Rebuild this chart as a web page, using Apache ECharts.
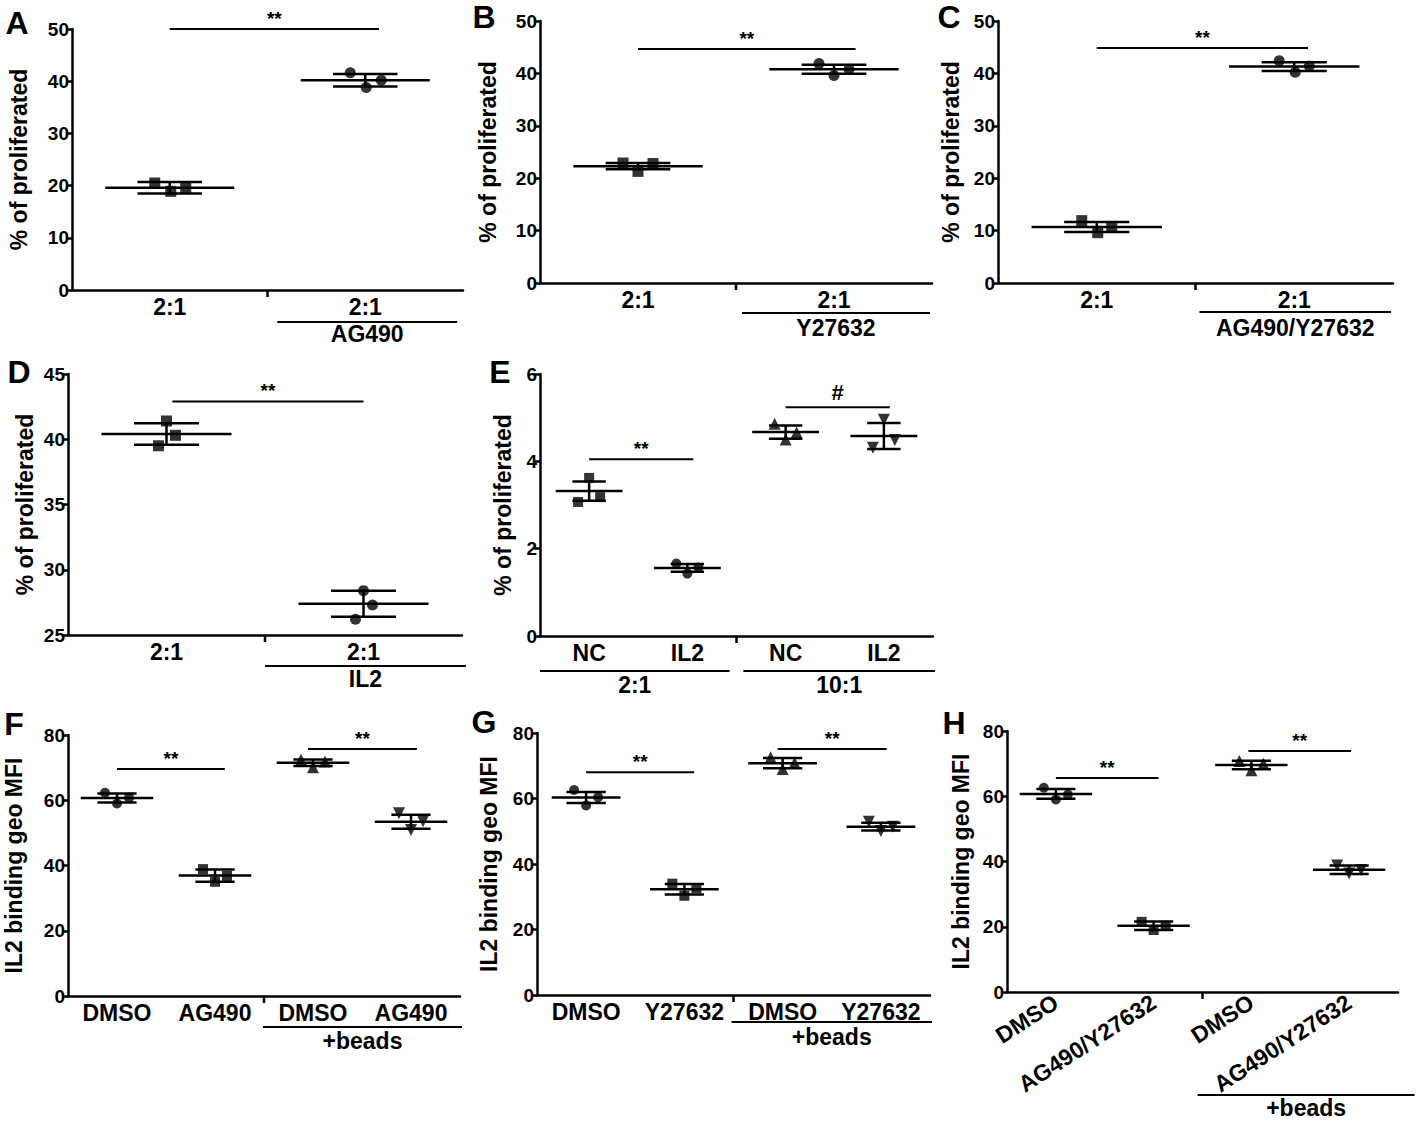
<!DOCTYPE html>
<html><head><meta charset="utf-8">
<script src="https://cdn.jsdelivr.net/npm/echarts@6/dist/echarts.min.js"></script>
<style>html,body{margin:0;padding:0;background:#fff}#c{width:1418px;height:1121px}</style>
</head><body><div id="c"></div>
<script>
// ---------------- DATA ----------------
// Panel A
const A_categories = ['2:1', '2:1'];
const A_points = [[20.5, 18.9, 19.5], [41.6, 38.8, 40.2]];
const A_mean = [19.6, 40.2];
const A_sd = [1.1, 1.2];
const A_yAxis = {min: 0, max: 50, interval: 10};
const A_sig = [{from: 0, to: 1.07, y: 50, text: '**'}];
const A_groups = [{from: 0.55, to: 1.47, text: 'AG490'}];
// Panel B
const B_categories = ['2:1', '2:1'];
const B_points = [[22.9, 21.3, 22.8], [41.9, 39.6, 40.8]];
const B_mean = [22.3, 40.8];
const B_sd = [0.6, 0.85];
const B_yAxis = {min: 0, max: 50, interval: 10};
const B_sig = [{from: 0, to: 1.11, y: 44.65, text: '**'}];
const B_groups = [{from: 0.53, to: 1.49, text: 'Y27632'}];
// Panel C
const C_categories = ['2:1', '2:1'];
const C_points = [[11.9, 9.6, 10.7], [42.4, 40.2, 41.4]];
const C_mean = [10.7, 41.3];
const C_sd = [0.95, 0.85];
const C_yAxis = {min: 0, max: 50, interval: 10};
const C_sig = [{from: 0, to: 1.07, y: 44.85, text: '**'}];
const C_groups = [{from: 0.52, to: 1.49, text: 'AG490/Y27632'}];
// Panel D
const D_categories = ['2:1', '2:1'];
const D_points = [[39.5, 41.4, 40.3], [26.2, 28.4, 27.3]];
const D_mean = [40.4, 27.4];
const D_sd = [0.83, 1.0];
const D_yAxis = {min: 25, max: 45, interval: 5};
const D_sig = [{from: 0.03, to: 1.0, y: 42.9, text: '**'}];
const D_groups = [{from: 0.5, to: 1.52, text: 'IL2'}];
// Panel E
const E_categories = ['NC', 'IL2', 'NC', 'IL2'];
const E_points = [[3.07, 3.62, 3.18], [1.66, 1.43, 1.57], [4.86, 4.50, 4.66], [4.31, 4.95, 4.49]];
const E_mean = [3.32, 1.56, 4.67, 4.58];
const E_sd = [0.22, 0.09, 0.15, 0.30];
const E_yAxis = {min: 0, max: 6, interval: 2};
const E_sig = [{from: 0, to: 1.06, y: 4.05, text: '**'}, {from: 2, to: 3.06, y: 5.24, text: '#'}];
const E_groups = [{from: -0.5, to: 1.43, text: '2:1'}, {from: 1.57, to: 3.52, text: '10:1'}];
// Panel F
const F_categories = ['DMSO', 'AG490', 'DMSO', 'AG490'];
const F_points = [[62.3, 59.0, 60.8], [38.9, 35.0, 36.8], [72.4, 70.1, 71.9], [56.0, 50.9, 53.6]];
const F_mean = [60.7, 36.9, 71.5, 53.4];
const F_sd = [1.4, 1.9, 1.0, 2.15];
const F_yAxis = {min: 0, max: 80, interval: 20};
const F_sig = [{from: 0, to: 1.1, y: 69.6, text: '**'}, {from: 1.95, to: 3.06, y: 75.7, text: '**'}];
const F_groups = [{from: 1.49, to: 3.52, text: '+beads'}];
// Panel G
const G_categories = ['DMSO', 'Y27632', 'DMSO', 'Y27632'];
const G_points = [[62.6, 57.9, 60.4], [34.0, 30.3, 32.6], [72.6, 69.0, 70.9], [52.9, 50.1, 51.4]];
const G_mean = [60.3, 32.3, 70.8, 51.4];
const G_sd = [1.7, 1.6, 1.6, 1.2];
const G_yAxis = {min: 0, max: 80, interval: 20};
const G_sig = [{from: 0, to: 1.1, y: 68.0, text: '**'}, {from: 1.95, to: 3.06, y: 75.1, text: '**'}];
const G_groups = [{from: 1.48, to: 3.52, text: '+beads'}];
// Panel H
const H_categories = ['DMSO', 'AG490/Y27632', 'DMSO', 'AG490/Y27632'];
const H_points = [[62.6, 59.0, 60.5], [21.5, 19.0, 20.3], [70.8, 68.0, 70.0], [38.8, 36.3, 37.4]];
const H_mean = [60.7, 20.3, 69.6, 37.5];
const H_sd = [1.5, 1.3, 1.3, 1.3];
const H_yAxis = {min: 0, max: 80, interval: 20};
const H_sig = [{from: 0, to: 1.05, y: 65.6, text: '**'}, {from: 1.97, to: 3.02, y: 73.9, text: '**'}];
const H_groups = [{from: 1.45, to: 3.67, text: '+beads'}];

const yTitleProlif = '% of proliferated';
const yTitleMFI = 'IL2 binding geo MFI';

// ---------------- LAYOUT ----------------
const FONT = '"Liberation Sans", Arial, Helvetica, sans-serif';
const CAT_FS = 23, TICK_FS = 19, NAME_FS = 23;
const panels = [
  {letter: 'A', cats: A_categories, pts: A_points, mean: A_mean, sd: A_sd, y: A_yAxis, sig: A_sig, groups: A_groups, yName: yTitleProlif,
   sym: ['rect', 'circle'], box: [72, 29, 463, 290], gap: 42, lp: [17, 23], jit: [-15, 1, 16], ul: 32, gl: 44, rot: 0, mf: 0.33, cf: 0.165, ss: 11},
  {letter: 'B', cats: B_categories, pts: B_points, mean: B_mean, sd: B_sd, y: B_yAxis, sig: B_sig, groups: B_groups, yName: yTitleProlif,
   sym: ['rect', 'circle'], box: [540, 21, 932, 283], gap: 41, lp: [484, 17], jit: [-15, 0, 15], ul: 30, gl: 45, rot: 0, mf: 0.33, cf: 0.165, ss: 11},
  {letter: 'C', cats: C_categories, pts: C_points, mean: C_mean, sd: C_sd, y: C_yAxis, sig: C_sig, groups: C_groups, yName: yTitleProlif,
   sym: ['rect', 'circle'], box: [998, 21, 1393, 283], gap: 36, lp: [949, 17], jit: [-15, 1, 15], ul: 29, gl: 45, rot: 0, mf: 0.33, cf: 0.165, ss: 11},
  {letter: 'D', cats: D_categories, pts: D_points, mean: D_mean, sd: D_sd, y: D_yAxis, sig: D_sig, groups: D_groups, yName: yTitleProlif,
   sym: ['rect', 'circle'], box: [68, 374, 462, 635], gap: 32, lp: [19, 372], jit: [-8, 0, 9], ul: 31, gl: 44, rot: 0, mf: 0.33, cf: 0.165, ss: 11},
  {letter: 'E', cats: E_categories, pts: E_points, mean: E_mean, sd: E_sd, y: E_yAxis, sig: E_sig, groups: E_groups, yName: yTitleProlif,
   sym: ['rect', 'circle', 'triangle', 'triangleDown'], box: [540, 374, 933, 636], gap: 26, lp: [500, 372], jit: [-11, 0, 11], ul: 35, gl: 49, rot: 0, mf: 0.34, cf: 0.17, ss: 10},
  {letter: 'F', cats: F_categories, pts: F_points, mean: F_mean, sd: F_sd, y: F_yAxis, sig: F_sig, groups: F_groups, yName: yTitleMFI,
   sym: ['circle', 'rect', 'triangle', 'triangleDown'], box: [68, 735, 460, 996], gap: 43, lp: [14, 724], jit: [-12, 0, 12], ul: 31, gl: 45, rot: 0, mf: 0.37, cf: 0.2, ss: 10},
  {letter: 'G', cats: G_categories, pts: G_points, mean: G_mean, sd: G_sd, y: G_yAxis, sig: G_sig, groups: G_groups, yName: yTitleMFI,
   sym: ['circle', 'rect', 'triangle', 'triangleDown'], box: [537, 733, 930, 995], gap: 37, lp: [484, 722], jit: [-12, 0, 12], ul: 27, gl: 42, rot: 0, mf: 0.35, cf: 0.2, ss: 10},
  {letter: 'H', cats: H_categories, pts: H_points, mean: H_mean, sd: H_sd, y: H_yAxis, sig: H_sig, groups: H_groups, yName: yTitleMFI,
   sym: ['circle', 'rect', 'triangle', 'triangleDown'], box: [1007, 731, 1398, 992], gap: 35, lp: [954, 723], jit: [-12, 0, 12], ul: 103, gl: 116, rot: 33, mf: 0.37, cf: 0.2, ss: 10}
];

const LW = 2.5;
const grid = [], xAxis = [], yAxis = [], series = [], graphic = [];

panels.forEach((p, k) => {
  const [l, t, r, b] = p.box;
  grid.push({left: l, top: t, width: r - l, height: b - t});
  xAxis.push({
    type: 'category', gridIndex: k, data: p.cats, boundaryGap: true,
    axisLine: {lineStyle: {color: '#000', width: LW}},
    axisTick: {show: false},
    axisLabel: {interval: 0, color: '#000', fontFamily: FONT, fontWeight: 'bold', fontSize: CAT_FS, margin: p.rot ? 8 : 5, rotate: p.rot}
  });
  yAxis.push({
    type: 'value', gridIndex: k, min: p.y.min, max: p.y.max, interval: p.y.interval,
    name: p.yName, nameLocation: 'middle', nameGap: p.gap, nameRotate: 90,
    nameTextStyle: {color: '#000', fontFamily: FONT, fontWeight: 'bold', fontSize: NAME_FS},
    axisLine: {show: true, lineStyle: {color: '#000', width: LW}},
    axisTick: {show: true, length: 6, lineStyle: {color: '#000', width: LW}},
    splitLine: {show: false},
    axisLabel: {color: '#000', fontFamily: FONT, fontWeight: 'bold', fontSize: TICK_FS, margin: 3}
  });

  // mean ± SD
  series.push({
    type: 'custom', xAxisIndex: k, yAxisIndex: k, z: 3, clip: false,
    data: p.mean.map((m, i) => [i, m, p.sd[i]]),
    renderItem: (params, api) => {
      const i = api.value(0), m = api.value(1), s = api.value(2);
      const band = api.size([1, 0])[0];
      const c = api.coord([i, m]), hi = api.coord([i, m + s]), lo = api.coord([i, m - s]);
      const mh = band * p.mf, ch = band * p.cf;
      const st = {stroke: '#000', lineWidth: LW};
      return {type: 'group', children: [
        {type: 'line', shape: {x1: c[0] - mh, y1: c[1], x2: c[0] + mh, y2: c[1]}, style: st},
        {type: 'line', shape: {x1: c[0] - ch, y1: hi[1], x2: c[0] + ch, y2: hi[1]}, style: st},
        {type: 'line', shape: {x1: c[0] - ch, y1: lo[1], x2: c[0] + ch, y2: lo[1]}, style: st},
        {type: 'line', shape: {x1: c[0], y1: hi[1], x2: c[0], y2: lo[1]}, style: st}
      ]};
    }
  });

  // individual points
  p.pts.forEach((vals, i) => {
    series.push({
      type: 'scatter', xAxisIndex: k, yAxisIndex: k, z: 4,
      symbol: p.sym[i] === 'triangleDown' ? 'triangle' : p.sym[i],
      symbolRotate: p.sym[i] === 'triangleDown' ? 180 : 0,
      symbolSize: p.sym[i].indexOf('triangle') === 0 ? p.ss + 2 : p.ss,
      itemStyle: {color: '#000'},
      data: vals.map((v, j) => ({value: [i, v], symbolOffset: [p.jit[j], 0]}))
    });
  });

  // annotations: significance bars, separator tick, group underlines & labels
  series.push({
    type: 'custom', xAxisIndex: k, yAxisIndex: k, z: 5, clip: false,
    data: [[0, p.y.min]],
    renderItem: (params, api) => {
      const band = api.size([1, 0])[0];
      const base = api.coord([0, p.y.min]);
      const x0 = base[0], yb = base[1];
      const X = f => x0 + f * band;
      const st = {stroke: '#000', lineWidth: LW};
      const ch = [];
      p.sig.forEach(s => {
        const yy = api.coord([0, s.y])[1];
        ch.push({type: 'line', shape: {x1: X(s.from), y1: yy, x2: X(s.to), y2: yy}, style: {stroke: '#000', lineWidth: 2}});
        ch.push({type: 'text', style: {text: s.text, x: (X(s.from) + X(s.to)) / 2, y: yy - (s.text === '#' ? 4 : 1),
          align: 'center', verticalAlign: 'bottom', fill: '#000',
          font: 'bold ' + (s.text === '#' ? 22 : 19) + 'px ' + FONT}});
      });
      const sep = (p.cats.length - 1) / 2;
      ch.push({type: 'line', shape: {x1: X(sep), y1: yb, x2: X(sep), y2: yb + 7}, style: st});
      p.groups.forEach(g => {
        ch.push({type: 'line', shape: {x1: X(g.from), y1: yb + p.ul, x2: X(g.to), y2: yb + p.ul}, style: {stroke: '#000', lineWidth: 2}});
        ch.push({type: 'text', style: {text: g.text, x: (X(g.from) + X(g.to)) / 2, y: yb + p.gl,
          align: 'center', verticalAlign: 'middle', fill: '#000', font: 'bold ' + CAT_FS + 'px ' + FONT}});
      });
      return {type: 'group', children: ch};
    }
  });

  graphic.push({type: 'text', x: p.lp[0], y: p.lp[1],
    style: {text: p.letter, fill: '#000', font: 'bold 32px ' + FONT, align: 'center', verticalAlign: 'middle'}});
});

const chart = echarts.init(document.getElementById('c'), null, {renderer: 'svg'});
chart.setOption({
  animation: false,
  backgroundColor: '#fff',
  grid, xAxis, yAxis, series, graphic
});
</script>
</body></html>
